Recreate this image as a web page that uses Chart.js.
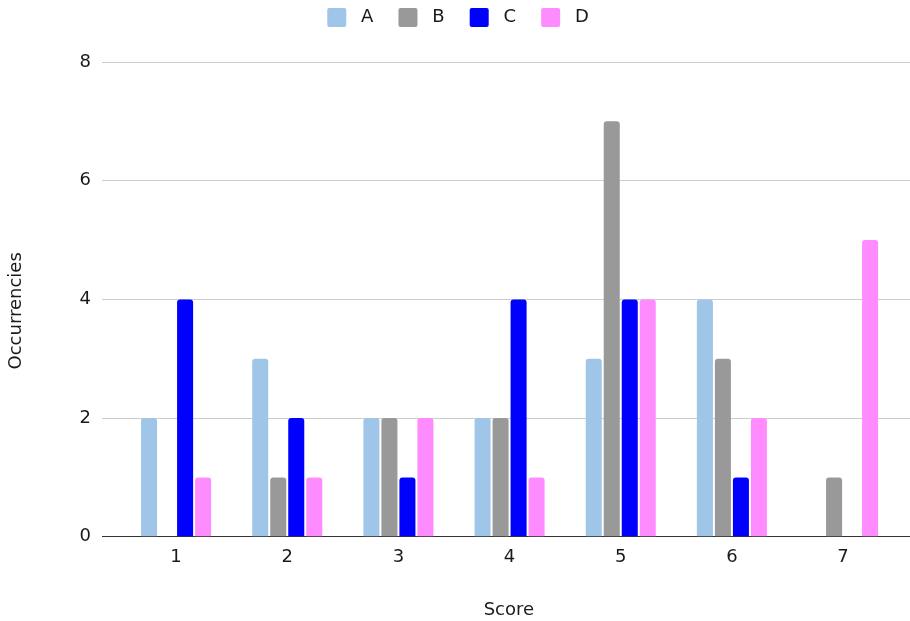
<!DOCTYPE html>
<html><head><meta charset="utf-8">
<script src="https://cdn.jsdelivr.net/npm/chart.js@4/dist/chart.umd.min.js"></script>
<style>html,body{margin:0;padding:0;background:#fff}#wrap{width:910px;height:621px}</style>
</head><body><div id="wrap"><canvas id="c" width="910" height="621"></canvas></div>
<script>
const scores = [1, 2, 3, 4, 5, 6, 7];
const seriesA = [2, 3, 2, 2, 3, 4, 0];
const seriesB = [0, 1, 2, 2, 7, 3, 1];
const seriesC = [4, 2, 1, 4, 4, 1, 0];
const seriesD = [1, 1, 2, 1, 4, 2, 5];
const yTicks = [0, 2, 4, 6, 8];

const pts = arr => arr.map((v, i) => ({x: scores[i], y: v}));
const font = {family: "'DejaVu Sans', sans-serif", size: 18};
const mk = (label, data, color) => ({label, data: pts(data), backgroundColor: color, borderRadius: 3, borderSkipped: 'start', categoryPercentage: 0.648, barPercentage: 0.89});

const legendMargin = {
  id: 'legendMargin',
  beforeInit(chart) {
    const orig = chart.legend.fit;
    chart.legend.fit = function () { orig.call(this); this.height += 25; };
  }
};

new Chart(document.getElementById('c'), {
  type: 'bar',
  data: {datasets: [
    mk('A', seriesA, '#9fc5e8'),
    mk('B', seriesB, '#999999'),
    mk('C', seriesC, '#0000ff'),
    mk('D', seriesD, '#ff8cff')
  ]},
  plugins: [legendMargin],
  options: {
    responsive: false, animation: false,
    layout: {padding: {left: 6, right: 0, top: 0, bottom: 0}},
    plugins: {
      legend: {position: 'top', labels: {font, color: '#1a1a1a', boxWidth: 19, boxHeight: 19, useBorderRadius: true, borderRadius: 2, padding: 8,
        generateLabels: chart => Chart.defaults.plugins.legend.labels.generateLabels(chart).map((l, i, all) => Object.assign(l, {text: ' ' + l.text + (i < all.length - 1 ? '   ' : '')}))}},
      tooltip: {enabled: false}
    },
    scales: {
      x: {type: 'linear', min: 0.334, max: 7.602, offset: false,
        afterBuildTicks: ax => { ax.ticks = scores.map(v => ({value: v})); },
        ticks: {font, color: '#1a1a1a', padding: 10},
        grid: {display: false, drawTicks: false, offset: false},
        border: {display: true, color: '#333', width: 1},
        title: {display: true, text: ' Score', font, color: '#1a1a1a', padding: {top: 21, bottom: 0}}
      },
      y: {min: 0, max: 8,
        afterBuildTicks: ax => { ax.ticks = yTicks.map(v => ({value: v})); },
        ticks: {font, color: '#1a1a1a', padding: 11},
        grid: {color: '#cccccc', drawTicks: false},
        border: {display: false},
        title: {display: true, text: 'Occurrencies    ', font, color: '#1a1a1a', padding: {top: 0, bottom: 41}}
      }
    }
  }
});
</script></body></html>
